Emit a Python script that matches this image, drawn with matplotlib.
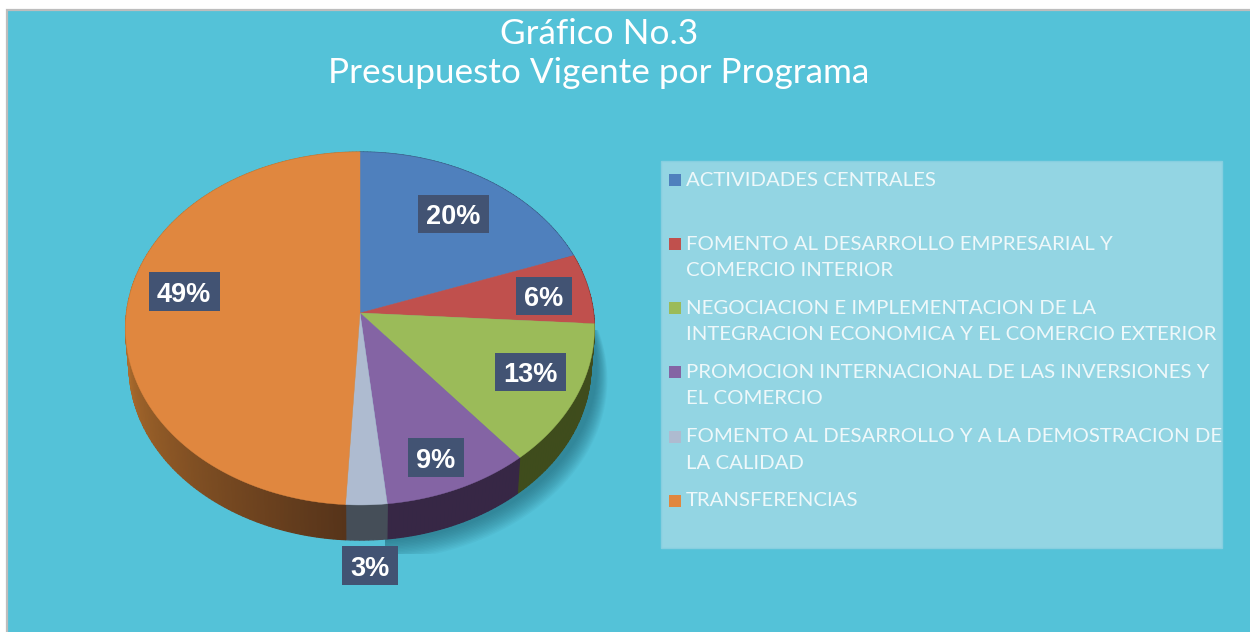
import numpy as np
import matplotlib
matplotlib.use("Agg")
import matplotlib.pyplot as plt
from matplotlib.patches import Polygon, Rectangle

programas = ["ACTIVIDADES CENTRALES",
             "FOMENTO AL DESARROLLO EMPRESARIAL Y\nCOMERCIO INTERIOR",
             "NEGOCIACION E IMPLEMENTACION DE LA\nINTEGRACION ECONOMICA Y EL COMERCIO EXTERIOR",
             "PROMOCION INTERNACIONAL DE LAS INVERSIONES Y\nEL COMERCIO",
             "FOMENTO AL DESARROLLO Y A LA DEMOSTRACION DE\nLA CALIDAD",
             "TRANSFERENCIAS"]
valores = [19.52, 6.45, 13.03, 9.3, 2.6, 49.1]
colores = ["#4f80bd", "#c0504d", "#9bbb59", "#8464a4", "#aebbd0", "#e0873f"]
lados = ["#2f4c70", "#70302e", "#3f4c1c", "#372745", "#454e58", "#57341a"]
titulo = ["Gráfico No.3", "Presupuesto Vigente por Programa"]
cajas = [(453.5, 214), (544, 296), (530.5, 372), (436, 457.5), (370, 565.5), (184, 291.5)]
ley_y = [179, 243, 307, 371, 436, 500]

W, H = 1250, 632
fig = plt.figure(figsize=(W / 100, H / 100), dpi=100, facecolor="white")
ax = fig.add_axes([0, 0, 1, 1])
ax.set_xlim(0, W)
ax.set_ylim(H, 0)
ax.axis("off")

ax.add_patch(Rectangle((6.5, 9.5), W, H, fc="#54c2d8", ec="#bdbdbd", lw=1.6, zorder=0))

# perspective projection of the disc
CX, CY, A, B, K = 360, 313, 233.5, 175.1, 0.0878
def top(t):
    u, v = np.sin(t), np.cos(t)
    w = 1 + K * v
    return CX + A * u / w, CY - B * v / w
def bottom(t):
    x, y = top(t)
    return CX + (x - CX) * 0.985, CY + (y - CY) * 0.985 + 38

# soft shadow, only towards the lower right
tt = np.linspace(0, 2 * np.pi, 240)
bx, by = bottom(tt)
clip = Rectangle((385, 330), 240, 224, transform=ax.transData)
for i in range(14):
    s = 1.0 + 0.0035 * i
    sombra = Polygon(np.c_[CX + 6 + (bx - CX) * s, CY + 2 + (by - CY) * s + 0.7 * i], fc="#1b5a6b",
                     ec="none", alpha=0.05, zorder=1)
    ax.add_patch(sombra)
    sombra.set_clip_path(clip)

bordes = np.r_[0, np.cumsum(valores)] / sum(valores) * 2 * np.pi

def mezcla(c1, c2, f):
    a, b = np.array(matplotlib.colors.to_rgb(c1)), np.array(matplotlib.colors.to_rgb(c2))
    return a + (b - a) * f

# side wall
for i, lado in enumerate(lados):
    n = max(4, int((bordes[i + 1] - bordes[i]) * 60))
    ts = np.linspace(bordes[i], bordes[i + 1], n + 1)
    for a0, a1 in zip(ts[:-1], ts[1:]):
        seg = np.linspace(a0, a1, 3)
        x1, y1 = top(seg)
        x2, y2 = bottom(seg)
        c = lado
        if i == len(lados) - 1:
            f = np.clip((a0 - bordes[i]) / (1.5 * np.pi - bordes[i]), 0, 1)
            c = mezcla(lado, "#b5722f", f)
        ax.add_patch(Polygon(np.r_[np.c_[x1, y1], np.c_[x2, y2][::-1]], fc=c, ec=c, lw=0.9, zorder=2))

# top face
for i, col in enumerate(colores):
    seg = np.linspace(bordes[i], bordes[i + 1], 120)
    x, y = top(seg)
    ax.add_patch(Polygon(np.r_[[[CX, CY]], np.c_[x, y]], fc=col, ec=col, lw=0.3, zorder=3))

# percentage boxes
for v, (x, y) in zip(valores, cajas):
    etiqueta = f"{round(v)}%"
    ancho = 71 if len(etiqueta) == 3 else 55.5
    ax.add_patch(Rectangle((x - ancho / 2, y - 19.3), ancho, 38.6, fc="#425373", ec="none", zorder=6))
    ax.text(x, y + 0.5, etiqueta, color="white", fontsize=19.5, fontweight="bold",
            family="Liberation Sans", ha="center", va="center_baseline", zorder=7)

# legend panel
ax.add_patch(Rectangle((661, 161), 561, 387, fc="#93d5e3", ec="#86cfe0", lw=1, zorder=4))
for p, y, col in zip(programas, ley_y, colores):
    ax.add_patch(Rectangle((669, y - 5), 12, 12, fc=col, ec="none", zorder=5))
    for j, linea in enumerate(p.split("\n")):
        ax.text(686, y + 1 + j * 26.2, linea, color="#eef8fa", fontsize=14.7, family="Lato",
                ha="left", va="center", zorder=5)

for linea, y in zip(titulo, (34, 73)):
    ax.text(599, y, linea, color="white", fontsize=25.3, family="Lato", ha="center", va="center", zorder=5)

fig.savefig("out.png", dpi=100)
